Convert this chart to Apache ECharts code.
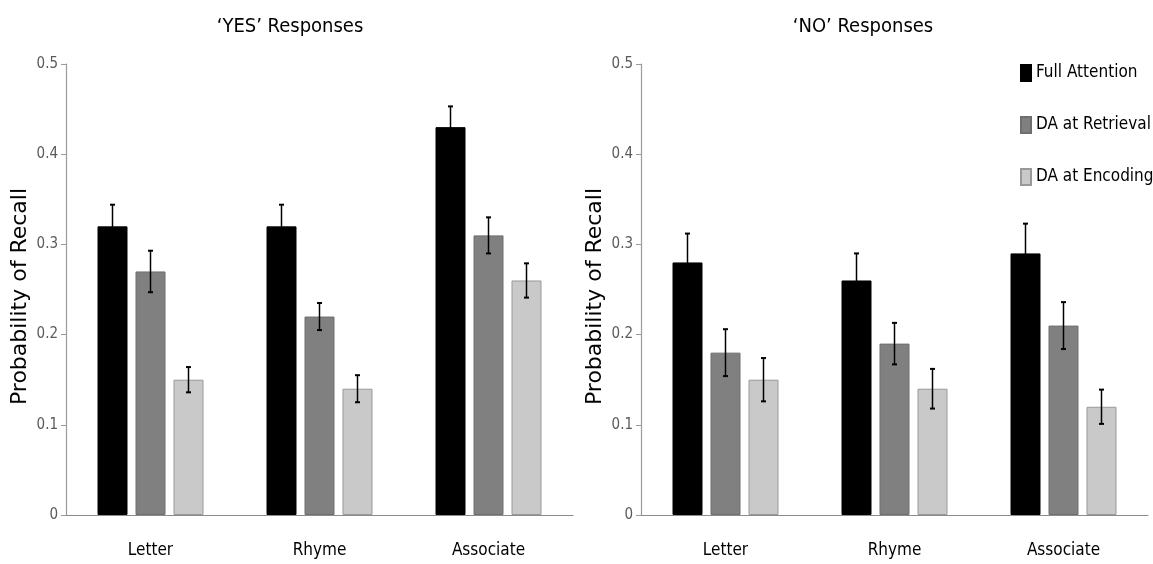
<!DOCTYPE html>
<html>
<head>
<meta charset="utf-8">
<script src="https://cdn.jsdelivr.net/npm/echarts@6/dist/echarts.min.js"></script>
<style>
html,body{margin:0;padding:0;background:#fff;}
#chart{width:1153px;height:564px;}
</style>
</head>
<body>
<div id="chart"></div>
<script>
var categories = ['Letter', 'Rhyme', 'Associate'];
var seriesNames = ['Full Attention', 'DA at Retrieval', 'DA at Encoding'];
var yTicks = [0, 0.1, 0.2, 0.3, 0.4, 0.5];

var yesFull = [0.32, 0.32, 0.43];
var yesRetrieval = [0.27, 0.22, 0.31];
var yesEncoding = [0.15, 0.14, 0.26];
var yesFullErr = [0.024, 0.024, 0.023];
var yesRetrievalErr = [0.023, 0.015, 0.020];
var yesEncodingErr = [0.014, 0.015, 0.019];

var noFull = [0.28, 0.26, 0.29];
var noRetrieval = [0.18, 0.19, 0.21];
var noEncoding = [0.15, 0.14, 0.12];
var noFullErr = [0.032, 0.030, 0.033];
var noRetrievalErr = [0.026, 0.023, 0.026];
var noEncodingErr = [0.024, 0.022, 0.019];

var titles = ["\u2018YES\u2019 Responses", "\u2018NO\u2019 Responses"];
var yName = 'Probability of Recall';

var narrow = '"Liberation Sans Narrow", "DejaVu Sans Condensed", Roboto, sans-serif';
var fills = ['#000000', '#808080', '#c9c9c9'];
var borders = ['#000000', '#6e6e6e', '#999999'];
var BAR_W = 30, BAR_GAP = 8;

function barSeries(idx, name, data, gi) {
  return {
    type: 'bar', name: name, data: data,
    xAxisIndex: gi, yAxisIndex: gi,
    barWidth: BAR_W, barGap: (BAR_GAP / BAR_W * 100) + '%',
    itemStyle: { color: fills[idx], borderColor: borders[idx], borderWidth: 1 },
    emphasis: { disabled: true },
    z: 2
  };
}
function errSeries(idx, vals, errs, gi) {
  var data = vals.map(function (v, i) { return [i, v - errs[i], v + errs[i]]; });
  var off = (idx - 1) * (BAR_W + BAR_GAP);
  return {
    type: 'custom', xAxisIndex: gi, yAxisIndex: gi, z: 5, silent: true,
    data: data,
    encode: { x: 0, y: [1, 2] },
    renderItem: function (params, api) {
      var lo = api.coord([api.value(0), api.value(1)]);
      var hi = api.coord([api.value(0), api.value(2)]);
      var x = lo[0] + off;
      var cap = 2.5;
      var st = { stroke: '#000', lineWidth: 1.5 };
      return {
        type: 'group',
        children: [
          { type: 'line', shape: { x1: x, y1: lo[1], x2: x, y2: hi[1] }, style: st },
          { type: 'line', shape: { x1: x - cap, y1: hi[1], x2: x + cap, y2: hi[1] }, style: { stroke: '#000', lineWidth: 2 } },
          { type: 'line', shape: { x1: x - cap, y1: lo[1], x2: x + cap, y2: lo[1] }, style: { stroke: '#000', lineWidth: 2 } }
        ]
      };
    }
  };
}

function xAxis(gi) {
  return {
    type: 'category', gridIndex: gi, data: categories,
    axisLine: { lineStyle: { color: '#8c8c8c', width: 1.2 } },
    axisTick: { show: false },
    axisLabel: { color: '#000', fontSize: 17, fontFamily: narrow, margin: 27 }
  };
}
function yAxis(gi) {
  return {
    type: 'value', gridIndex: gi, min: yTicks[0], max: yTicks[yTicks.length - 1], interval: 0.1,
    name: yName, nameLocation: 'middle', nameGap: 35,
    nameTextStyle: { color: '#000', fontSize: 22, fontFamily: '"DejaVu Sans", Verdana, sans-serif', padding: [0, 14, 0, 0] },
    axisLine: { show: true, lineStyle: { color: '#9a9a9a', width: 1.2 } },
    axisTick: { show: true, length: 5, lineStyle: { color: '#9a9a9a' } },
    splitLine: { show: false },
    axisLabel: { color: '#5a5a5a', fontSize: 15, fontFamily: narrow, margin: 8 }
  };
}

var series = [];
[[yesFull, yesRetrieval, yesEncoding, yesFullErr, yesRetrievalErr, yesEncodingErr],
 [noFull, noRetrieval, noEncoding, noFullErr, noRetrievalErr, noEncodingErr]].forEach(function (set, gi) {
  for (var k = 0; k < 3; k++) series.push(barSeries(k, seriesNames[k], set[k], gi));
  for (var k2 = 0; k2 < 3; k2++) series.push(errSeries(k2, set[k2], set[k2 + 3], gi));
});

var chart = echarts.init(document.getElementById('chart'), null, { renderer: 'canvas' });
chart.setOption({
  animation: false,
  backgroundColor: '#ffffff',
  title: [
    { text: titles[0], left: 285, top: 12, textAlign: 'center', textStyle: { color: '#000', fontSize: 20, fontWeight: 'normal', fontFamily: narrow } },
    { text: titles[1], left: 858, top: 12, textAlign: 'center', textStyle: { color: '#000', fontSize: 20, fontWeight: 'normal', fontFamily: narrow } }
  ],
  legend: {
    data: seriesNames, orient: 'vertical', left: 1015, top: 59, itemGap: 34,
    itemWidth: 10, itemHeight: 16, itemTextGap: 7, icon: 'rect', selectedMode: false,
    textStyle: { color: '#000', fontSize: 17, fontFamily: narrow }
  },
  grid: [
    { left: 66, right: 580, top: 64, bottom: 49 },
    { left: 641, right: 5, top: 64, bottom: 49 }
  ],
  xAxis: [xAxis(0), xAxis(1)],
  yAxis: [yAxis(0), yAxis(1)],
  series: series
});
</script>
</body>
</html>
